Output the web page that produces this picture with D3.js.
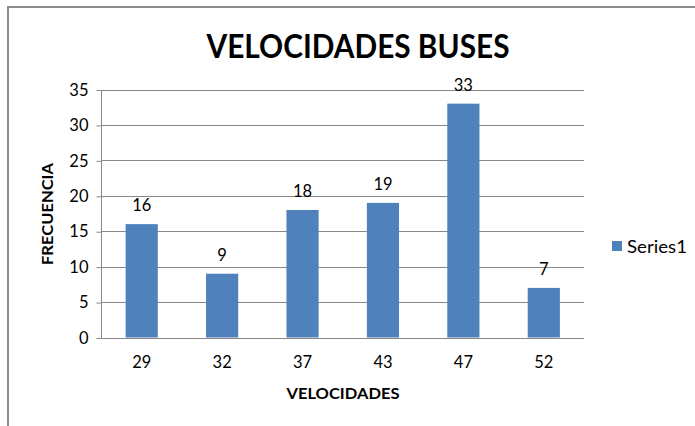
<!DOCTYPE html>
<html>
<head>
<meta charset="utf-8">
<script src="https://cdn.jsdelivr.net/npm/d3@7"></script>
<style>
  html, body { margin: 0; padding: 0; background: #fff; }
  svg { display: block; }
  text { font-family: Lato, "Open Sans", sans-serif; fill: #000; }
</style>
</head>
<body>
<svg id="chart" width="695" height="426"></svg>
<script>
const categories = ["29", "32", "37", "43", "47", "52"];
const values = [16, 9, 18, 19, 33, 7];
const yTicks = [0, 5, 10, 15, 20, 25, 30, 35];
const seriesName = "Series1";
const titleText = "VELOCIDADES BUSES";
const xTitle = "VELOCIDADES";
const yTitle = "FRECUENCIA";

const svg = d3.select("#chart");
const plot = { left: 101.5, right: 584, top: 89.5, bottom: 337.5 };
const barColor = "#4f81bd";
const gridColor = "#878787";
const numSize = 16.5;

// outer border
svg.append("rect")
  .attr("x", 8).attr("y", 7)
  .attr("width", 695).attr("height", 440)
  .attr("fill", "none").attr("stroke", "#8c8c8c").attr("stroke-width", 2);

const x = d3.scaleBand().domain(categories).range([plot.left, plot.right]).paddingInner(0.6).paddingOuter(0.3);
const y = d3.scaleLinear().domain([0, 35]).range([plot.bottom, plot.top]);

// gridlines
svg.append("g").selectAll("line").data(yTicks.filter(d => d > 0)).join("line")
  .attr("x1", plot.left).attr("x2", plot.right)
  .attr("y1", d => Math.round(y(d)) + 0.5).attr("y2", d => Math.round(y(d)) + 0.5)
  .attr("stroke", gridColor).attr("stroke-width", 1);

// y axis
const yAxis = d3.axisLeft(y).tickValues(yTicks).tickSize(5).tickPadding(8).tickFormat(d3.format("d"));
const gy = svg.append("g").attr("transform", `translate(${plot.left},0.5)`).call(yAxis);
gy.select(".domain").attr("stroke", gridColor).attr("d", `M0,${plot.top}V${plot.bottom}`);
gy.selectAll(".tick line").attr("stroke", gridColor);
gy.selectAll(".tick text").attr("font-size", numSize).attr("font-family", "Lato, sans-serif").attr("fill", "#000");

// bars
svg.append("g").selectAll("rect").data(values).join("rect")
  .attr("x", (d, i) => x(categories[i]))
  .attr("width", x.bandwidth())
  .attr("y", d => y(d))
  .attr("height", d => y(0) - y(d))
  .attr("fill", barColor);

// x axis
const xAxis = d3.axisBottom(x).tickSize(0).tickPadding(18);
const gx = svg.append("g").attr("transform", `translate(0,${Math.round(plot.bottom) + 0.5})`).call(xAxis);
gx.select(".domain").attr("stroke", gridColor).attr("d", `M${plot.left},0H${plot.right}`);
gx.selectAll(".tick text").attr("font-size", numSize).attr("font-family", "Lato, sans-serif").attr("fill", "#000");

// data labels
svg.append("g").selectAll("text").data(values).join("text")
  .attr("x", (d, i) => x(categories[i]) + x.bandwidth() / 2)
  .attr("y", d => y(d) - 13)
  .attr("text-anchor", "middle")
  .attr("font-size", numSize)
  .text(d => d);

// title
svg.append("text")
  .attr("x", 358).attr("y", 58)
  .attr("text-anchor", "middle")
  .attr("font-size", 32).attr("font-weight", "bold")
  .attr("textLength", 303).attr("lengthAdjust", "spacingAndGlyphs")
  .text(titleText);

// axis titles
svg.append("text")
  .attr("x", 343).attr("y", 399)
  .attr("text-anchor", "middle")
  .attr("font-size", 16).attr("font-weight", "bold")
  .attr("textLength", 113).attr("lengthAdjust", "spacingAndGlyphs")
  .text(xTitle);

svg.append("text")
  .attr("transform", `translate(53,214) rotate(-90)`)
  .attr("text-anchor", "middle")
  .attr("font-size", 16).attr("font-weight", "bold")
  .attr("textLength", 102).attr("lengthAdjust", "spacingAndGlyphs")
  .text(yTitle);

// legend
const lg = svg.append("g").attr("transform", "translate(612,241)");
lg.append("rect").attr("width", 10).attr("height", 10).attr("fill", barColor);
lg.append("text").attr("x", 15).attr("y", 11.5).attr("font-size", 17)
  .attr("textLength", 60).attr("lengthAdjust", "spacingAndGlyphs")
  .text(seriesName);
</script>
</body>
</html>
